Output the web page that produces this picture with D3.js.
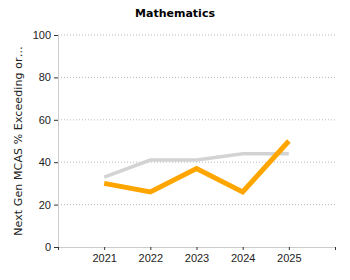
<!DOCTYPE html>
<html><head><meta charset="utf-8">
<script src="https://cdn.jsdelivr.net/npm/d3@7"></script>
<style>body{margin:0;background:#fff;}svg{display:block;}</style>
</head><body>
<script>
const years = ["2021","2022","2023","2024","2025"];
const schoolValues = [30, 26, 37, 26, 50];
const stateValues = [33, 41, 41, 44, 44];
const yTicks = [0, 20, 40, 60, 80, 100];
const title = "Mathematics";
const yLabel = "Next Gen MCAS % Exceeding or…";

const W = 350, H = 280;
const m = {left: 58, right: 15, top: 35, bottom: 33};
const svg = d3.select("body").append("svg").attr("width", W).attr("height", H)
  .style("font-family", "DejaVu Sans, Verdana, sans-serif");

const x = d3.scalePoint().domain(["", ...years, " "]).range([m.left, W - m.right]);
const y = d3.scaleLinear().domain([0, 100]).range([H - m.bottom, m.top]);

// gridlines
svg.append("g").selectAll("line").data(yTicks.filter(d => d > 0)).join("line")
  .attr("x1", m.left).attr("x2", W - m.right)
  .attr("y1", d => y(d)).attr("y2", d => y(d))
  .attr("stroke", "#bbb").attr("stroke-dasharray", "1,2").attr("stroke-width", 1);

// y axis
const ya = svg.append("g").attr("transform", `translate(${m.left},0)`)
  .call(d3.axisLeft(y).tickValues(yTicks).tickSize(4).tickPadding(3));
ya.select(".domain").attr("stroke", "#ccc");
ya.selectAll(".tick line").attr("stroke", "#333");
ya.selectAll("text").attr("font-size", 11).attr("fill", "#222");

// x axis
const xa = svg.append("g").attr("transform", `translate(0,${H - m.bottom})`)
  .call(d3.axisBottom(x).tickSize(3).tickPadding(4));
xa.select(".domain").attr("stroke", "#ccc");
xa.selectAll(".tick line").attr("stroke", "#333");
xa.selectAll("text").attr("font-size", 11).attr("fill", "#222");

const line = d3.line().x((d, i) => x(years[i])).y(d => y(d));
svg.append("path").datum(stateValues).attr("d", line)
  .attr("fill", "none").attr("stroke", "#d3d3d3").attr("stroke-width", 3.5);
svg.append("path").datum(schoolValues).attr("d", line)
  .attr("fill", "none").attr("stroke", "#FFA500").attr("stroke-width", 5)
  .attr("stroke-linejoin", "miter");

svg.append("text").attr("x", 175).attr("y", 17).attr("text-anchor", "middle")
  .attr("font-size", 11).attr("font-weight", "bold").attr("fill", "#000").text(title);

svg.append("text").attr("transform", `translate(22,${(m.top + H - m.bottom) / 2}) rotate(-90)`)
  .attr("text-anchor", "middle").attr("font-size", 11).attr("fill", "#222")
  .attr("letter-spacing", 0.1).text(yLabel);
</script>
</body></html>
